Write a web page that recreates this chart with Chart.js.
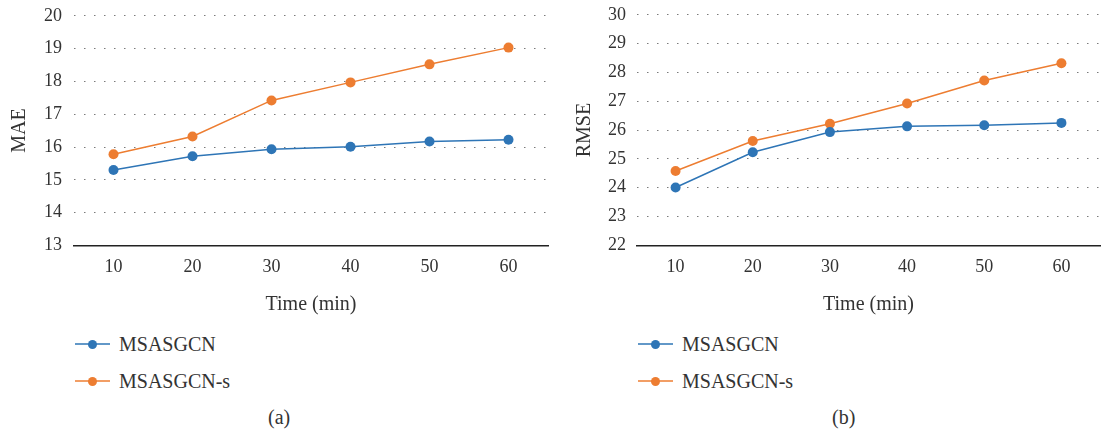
<!DOCTYPE html>
<html>
<head>
<meta charset="utf-8">
<script src="https://cdn.jsdelivr.net/npm/chart.js@4"></script>
<style>
  body { margin: 0; background: #fff; font-family: "Liberation Serif", serif; color: #333; }
  .wrap { position: relative; width: 1105px; height: 434px; overflow: hidden; }
  .box { position: absolute; top: -7px; }
  .legend { position: absolute; font-size: 20px; }
  .item { position: absolute; white-space: nowrap; height: 24px; line-height: 24px; }
  .mark { position: absolute; left: 0; top: 11px; width: 35px; height: 2px; opacity: 0.75; }
  .dot { position: absolute; left: 13px; top: 8px; width: 9px; height: 9px; border-radius: 50%; }
  .item span { position: absolute; left: 44px; top: 0; }
  .cap { position: absolute; top: 406px; font-size: 20px; }
</style>
</head>
<body>
<div class="wrap">
  <div class="box" style="left:0"><canvas id="chartMAE"></canvas></div>
  <div class="box" style="left:560px"><canvas id="chartRMSE"></canvas></div>

  <div class="legend" id="legendA" style="left:75px;top:332px"></div>
  <div class="legend" id="legendB" style="left:638px;top:332px"></div>

  <div class="cap" style="left:268px">(a)</div>
  <div class="cap" style="left:832px">(b)</div>
</div>
<script>
// x: prediction horizon
const timeLabels = ["10", "20", "30", "40", "50", "60"];
const seriesNames = ["MSASGCN", "MSASGCN-s"];
const seriesColors = ["#2E75B6", "#ED7D31"];

// (a) MAE
const maeBase = [15.30, 15.72, 15.93, 16.01, 16.17, 16.22];
const maeS    = [15.78, 16.32, 17.42, 17.97, 18.52, 19.03];

// (b) RMSE
const rmseBase = [24.01, 25.23, 25.93, 26.13, 26.17, 26.25];
const rmseS    = [24.58, 25.62, 26.22, 26.92, 27.72, 28.32];

const FONT = "Liberation Serif";

function makeChart(id, yTitle, data, yMin, yMax, pad, titlePad, tickPad) {
    const ctx = document.getElementById(id).getContext("2d");
    return new Chart(ctx, {
        type: "line",
        data: {
            labels: timeLabels,
            datasets: data.map((d, i) => ({
                label: seriesNames[i],
                data: d,
                borderColor: seriesColors[i],
                backgroundColor: seriesColors[i],
                borderWidth: 1.5,
                pointRadius: 5,
                pointBorderWidth: 0,
                tension: 0
            }))
        },
        options: {
            responsive: false,
            animation: false,
            layout: { padding: pad },
            plugins: { legend: { display: false }, tooltip: { enabled: false } },
            scales: {
                x: {
                    offset: true,
                    grid: { display: false, drawTicks: false },
                    border: { display: true, color: "#222", width: 1.5 },
                    ticks: { color: "#333", font: { family: FONT, size: 18 }, padding: 11 },
                    title: { display: true, text: "Time (min)", color: "#333", font: { family: FONT, size: 20 }, padding: { top: 4, bottom: 2 } }
                },
                y: {
                    min: yMin, max: yMax,
                    grid: { color: "#7a7a7a", lineWidth: 1, drawTicks: false },
                    border: { display: false, dash: [1.5, 8.5] },
                    ticks: { stepSize: 1, color: "#333", font: { family: FONT, size: 18 }, padding: tickPad },
                    title: { display: true, text: yTitle, color: "#333", font: { family: FONT, size: 20 }, padding: titlePad }
                }
            }
        }
    });
}

function sizeCanvas(id, w, h) {
    const c = document.getElementById(id);
    c.width = w; c.height = h;
    c.style.width = w + "px"; c.style.height = h + "px";
}
sizeCanvas("chartMAE", 560, 326);
sizeCanvas("chartRMSE", 545, 326);

makeChart("chartMAE", "MAE", [maeBase, maeS], 13, 20,
    { left: 0, right: 12, top: 0, bottom: 0 }, { top: 8, bottom: 0 }, 12);
makeChart("chartRMSE", "RMSE", [rmseBase, rmseS], 22, 30,
    { left: 0, right: 0, top: 0, bottom: 0 }, { top: 13, bottom: 0 }, 11);

function buildLegend(id) {
    const el = document.getElementById(id);
    seriesNames.forEach((name, i) => {
        const it = document.createElement("div");
        it.className = "item";
        it.style.top = (i * 37) + "px";
        it.innerHTML = '<div class="mark" style="background:' + seriesColors[i] + '"></div>' +
            '<div class="dot" style="background:' + seriesColors[i] + '"></div><span>' + name + '</span>';
        el.appendChild(it);
    });
}
buildLegend("legendA");
buildLegend("legendB");
</script>
</body>
</html>
